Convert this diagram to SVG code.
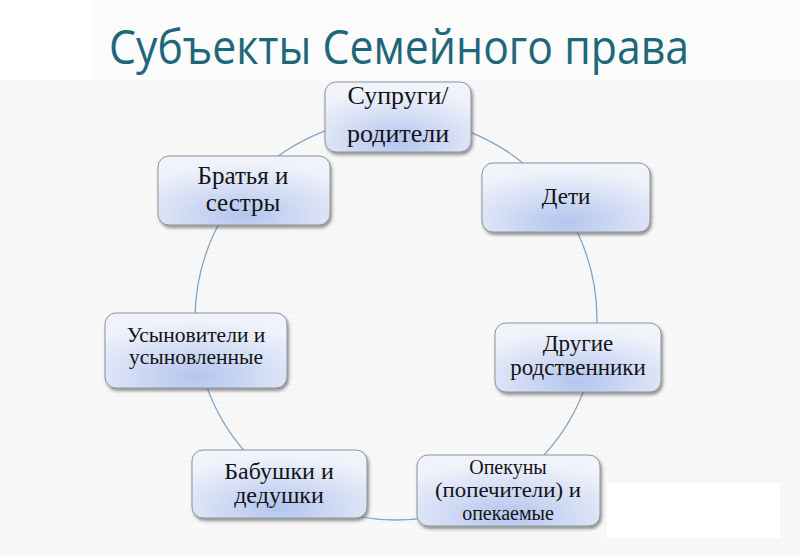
<svg xmlns="http://www.w3.org/2000/svg" width="800" height="556" viewBox="0 0 800 556">
  <defs>
    <radialGradient id="boxfill" cx="50%" cy="85%" r="75%" fx="50%" fy="85%">
      <stop offset="0" stop-color="#b3c5ee"/>
      <stop offset="0.55" stop-color="#d6dff5"/>
      <stop offset="1" stop-color="#f1f3fb"/>
    </radialGradient>
    <filter id="shadow" x="-10%" y="-10%" width="125%" height="135%">
      <feDropShadow dx="1.5" dy="2.5" stdDeviation="1.5" flood-color="#3a3a3a" flood-opacity="0.55"/>
    </filter>
    <pattern id="stripes" width="8" height="6" patternUnits="userSpaceOnUse">
      <rect width="8" height="6" fill="#f8f8f8"/>
      <rect width="8" height="1" y="0" fill="#f4f4f4"/>
    </pattern>
  </defs>
  <style>
    .box { fill: url(#boxfill); stroke: #8d939b; stroke-width: 1; filter: url(#shadow); }
    .lbl { font-family: "Liberation Serif", "Times New Roman", serif; fill: #141414; text-anchor: middle; }
    .title { font-family: "Open Sans", "Noto Sans", sans-serif; fill: #1d6878; }
    .conn { fill: none; stroke: #80a6c6; stroke-width: 1.3; }
  </style>

  <!-- background -->
  <rect x="0" y="0" width="800" height="556" fill="url(#stripes)"/>
  <rect x="93" y="0" width="707" height="80" fill="#fbfbfb"/>
  <rect x="0" y="0" width="93" height="80" fill="#ffffff"/>
  <rect x="607" y="483" width="173" height="55" fill="#ffffff"/>

  <text class="title" x="399" y="64" font-size="48" text-anchor="middle" textLength="580" lengthAdjust="spacingAndGlyphs">Субъекты Семейного права</text>

  <g id="connectors">
    <circle class="conn" cx="396" cy="319" r="201"/>
  </g>

  <g id="node-suprugi">
    <rect class="box" x="325" y="82" width="146" height="70" rx="11"/>
    <text class="lbl" x="398" y="104" font-size="26">Супруги/</text>
    <text class="lbl" x="398" y="142" font-size="26">родители</text>
  </g>

  <g id="node-deti">
    <rect class="box" x="482" y="163" width="168" height="69" rx="11"/>
    <text class="lbl" x="566" y="204" font-size="23">Дети</text>
  </g>

  <g id="node-drugie">
    <rect class="box" x="495" y="323" width="166" height="69" rx="11"/>
    <text class="lbl" x="578" y="351" font-size="23">Другие</text>
    <text class="lbl" x="578" y="375" font-size="23">родственники</text>
  </g>

  <g id="node-opekuny">
    <rect class="box" x="417" y="455" width="183" height="71" rx="11"/>
    <text class="lbl" x="508" y="474" font-size="20">Опекуны</text>
    <text class="lbl" x="508" y="497" font-size="20" textLength="146" lengthAdjust="spacingAndGlyphs">(попечители) и</text>
    <text class="lbl" x="508" y="520" font-size="20">опекаемые</text>
  </g>

  <g id="node-babushki">
    <rect class="box" x="192" y="450" width="175" height="68" rx="11"/>
    <text class="lbl" x="279" y="479" font-size="24">Бабушки и</text>
    <text class="lbl" x="279" y="503" font-size="24">дедушки</text>
  </g>

  <g id="node-usynoviteli">
    <rect class="box" x="105" y="313" width="182" height="75" rx="11"/>
    <text class="lbl" x="196" y="342" font-size="21.5">Усыновители и</text>
    <text class="lbl" x="196" y="364" font-size="21.5">усыновленные</text>
  </g>

  <g id="node-bratya">
    <rect class="box" x="158" y="156" width="172" height="69" rx="11"/>
    <text class="lbl" x="243" y="184" font-size="25">Братья и</text>
    <text class="lbl" x="243" y="211" font-size="25">сестры</text>
  </g>
</svg>
